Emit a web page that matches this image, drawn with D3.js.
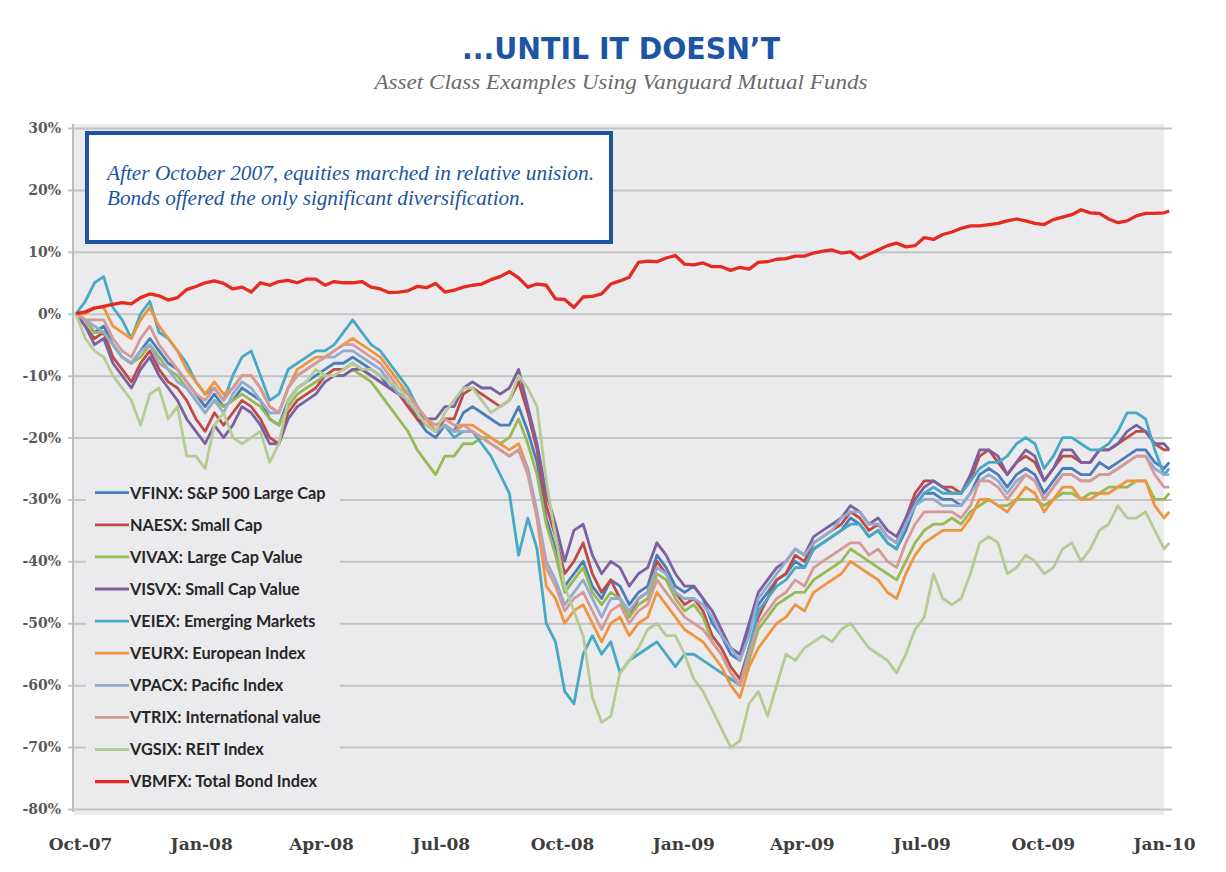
<!DOCTYPE html>
<meta charset="utf-8">

<!-- Load d3.js -->
<script src="https://d3js.org/d3.v7.min.js"></script>

<style>
  body { margin: 0; background: #fff; }
</style>

<!-- Create a div where the graph will take place -->
<div id="my_dataviz"></div>

<script>

// weekly values, % change since end of Sep-07
var vfinx = [0,-1,-3,-2,-5,-7,-8,-6,-4,-6,
  -8,-9,-11,-13,-15,-13,-15,-14,-12,-13,
  -14,-17,-18,-14,-12,-11,-10,-9,-8,-8,
  -7,-8,-9,-10,-12,-13,-14,-17,-19,-20,
  -18,-19,-16,-15,-16,-17,-18,-18,-15,-19,
  -24,-33,-38,-44,-42,-40,-44,-46,-43,-44,
  -47,-45,-44,-39,-41,-44,-45,-44,-46,-50,
  -52,-55,-56,-51,-47,-45,-43,-42,-40,-41,
  -38,-37,-36,-35,-33,-34,-36,-35,-37,-38,
  -35,-31,-29,-29,-30,-30,-31,-29,-26,-25,
  -26,-28,-26,-25,-26,-29,-27,-25,-25,-26,
  -26,-24,-25,-24,-23,-22,-22,-24,-25,-24];

var naesx = [0,-2,-4,-3,-7,-9,-11,-8,-6,-9,
  -11,-12,-14,-17,-19,-16,-18,-16,-14,-15,
  -17,-20,-21,-16,-14,-13,-12,-10,-9,-9,
  -8,-9,-10,-11,-12,-13,-15,-17,-18,-19,
  -17,-17,-13,-12,-13,-14,-15,-14,-11,-16,
  -22,-31,-36,-42,-40,-37,-42,-45,-43,-46,
  -49,-46,-45,-40,-42,-45,-47,-46,-48,-52,
  -54,-57,-59,-54,-49,-46,-43,-42,-39,-40,
  -37,-36,-35,-34,-32,-33,-35,-34,-36,-37,
  -33,-29,-27,-27,-28,-28,-29,-27,-23,-22,
  -24,-26,-24,-23,-24,-27,-25,-23,-23,-24,
  -24,-22,-22,-21,-20,-19,-19,-21,-22,-22];

var vivax = [0,-1,-3,-3,-5,-7,-8,-7,-5,-7,
  -9,-10,-12,-14,-16,-14,-15,-14,-13,-14,
  -15,-17,-18,-15,-13,-12,-11,-10,-10,-10,
  -9,-10,-11,-13,-15,-17,-19,-22,-24,-26,
  -23,-23,-21,-21,-20,-20,-21,-20,-17,-21,
  -26,-34,-39,-45,-43,-41,-45,-47,-45,-46,
  -49,-47,-46,-42,-43,-46,-48,-47,-49,-53,
  -55,-58,-60,-56,-51,-49,-47,-46,-45,-45,
  -43,-42,-41,-40,-38,-39,-40,-41,-42,-43,
  -40,-37,-35,-34,-34,-33,-34,-32,-31,-30,
  -31,-31,-30,-30,-30,-31,-30,-29,-29,-30,
  -29,-29,-28,-28,-28,-27,-27,-30,-30,-29];

var visvx = [0,-2,-5,-4,-8,-10,-12,-9,-7,-10,
  -12,-14,-17,-19,-21,-18,-20,-18,-15,-16,
  -18,-21,-21,-17,-15,-14,-13,-11,-10,-10,
  -9,-9,-10,-11,-12,-13,-14,-16,-17,-17,
  -15,-15,-12,-11,-12,-12,-13,-12,-9,-15,
  -21,-29,-34,-40,-35,-34,-39,-42,-40,-41,
  -44,-42,-41,-37,-39,-42,-44,-44,-46,-48,
  -51,-54,-55,-50,-45,-43,-41,-40,-38,-39,
  -36,-35,-34,-33,-31,-32,-34,-33,-35,-36,
  -33,-30,-28,-27,-28,-29,-29,-26,-22,-22,
  -23,-26,-24,-22,-23,-27,-25,-22,-22,-24,
  -24,-22,-22,-21,-19,-18,-19,-21,-21,-22];

var veiex = [0,2,5,6,1,-1,-4,0,2,-3,
  -4,-6,-8,-11,-13,-12,-14,-10,-7,-6,
  -10,-14,-13,-9,-8,-7,-6,-6,-5,-3,
  -1,-3,-5,-6,-8,-10,-12,-15,-17,-19,
  -18,-20,-19,-19,-21,-23,-26,-29,-39,-33,
  -38,-50,-53,-61,-63,-55,-52,-55,-53,-58,
  -56,-55,-54,-53,-55,-57,-55,-55,-56,-57,
  -58,-59,-60,-54,-48,-46,-44,-43,-41,-41,
  -38,-37,-36,-35,-34,-34,-36,-35,-37,-38,
  -34,-31,-29,-28,-29,-29,-29,-27,-25,-24,
  -24,-23,-21,-20,-21,-25,-23,-20,-20,-21,
  -22,-22,-21,-19,-16,-16,-17,-22,-26,-25];

var veurx = [0,0,1,1,-2,-3,-4,-1,1,-2,
  -4,-6,-9,-11,-13,-11,-13,-12,-10,-10,
  -12,-15,-16,-12,-9,-8,-7,-7,-6,-5,
  -4,-5,-6,-7,-9,-11,-13,-15,-17,-19,
  -18,-19,-18,-18,-19,-20,-21,-22,-21,-25,
  -33,-44,-46,-50,-48,-47,-50,-53,-50,-49,
  -52,-50,-49,-45,-47,-49,-51,-52,-53,-55,
  -57,-60,-62,-57,-54,-52,-50,-49,-47,-48,
  -45,-44,-43,-42,-40,-41,-42,-43,-45,-46,
  -42,-39,-37,-36,-35,-35,-35,-33,-30,-30,
  -31,-32,-30,-28,-29,-32,-30,-28,-28,-30,
  -30,-29,-29,-28,-27,-27,-27,-31,-33,-32];

var vpacx = [0,-1,-2,-3,-5,-7,-8,-6,-5,-8,
  -9,-11,-12,-14,-16,-14,-16,-13,-11,-12,
  -14,-16,-16,-12,-10,-9,-8,-7,-7,-6,
  -6,-7,-8,-9,-11,-13,-14,-16,-18,-19,
  -18,-19,-19,-19,-20,-21,-22,-23,-22,-25,
  -32,-40,-43,-47,-45,-43,-46,-49,-46,-46,
  -48,-46,-45,-41,-42,-45,-46,-46,-47,-49,
  -52,-54,-56,-52,-46,-44,-42,-40,-38,-39,
  -37,-36,-35,-33,-32,-32,-34,-34,-36,-37,
  -34,-31,-30,-30,-31,-31,-31,-29,-27,-26,
  -27,-29,-27,-26,-27,-30,-28,-26,-26,-27,
  -27,-26,-26,-25,-24,-23,-23,-25,-26,-26];

var vtrix = [0,-1,-1,-1,-4,-6,-7,-4,-2,-5,
  -7,-9,-11,-13,-14,-12,-14,-12,-10,-10,
  -12,-15,-16,-12,-10,-9,-8,-7,-6,-5,
  -5,-6,-7,-8,-10,-12,-13,-15,-17,-18,
  -17,-18,-18,-19,-20,-21,-22,-23,-22,-26,
  -33,-41,-44,-48,-46,-45,-48,-51,-48,-47,
  -50,-48,-47,-43,-45,-47,-49,-50,-51,-53,
  -55,-58,-60,-55,-50,-48,-46,-45,-43,-44,
  -41,-40,-39,-38,-37,-37,-39,-38,-40,-41,
  -37,-34,-32,-32,-32,-32,-33,-31,-27,-27,
  -28,-30,-28,-26,-27,-30,-28,-26,-26,-27,
  -27,-26,-26,-25,-24,-23,-23,-26,-28,-28];

var vgsix = [0,-4,-6,-7,-10,-12,-14,-18,-13,-12,
  -17,-15,-23,-23,-25,-18,-16,-20,-21,-20,
  -19,-24,-21,-14,-12,-11,-9,-10,-10,-9,
  -8,-9,-9,-10,-11,-12,-14,-16,-18,-19,
  -16,-14,-12,-12,-14,-16,-15,-14,-10,-12,
  -15,-27,-36,-44,-48,-52,-62,-66,-65,-58,
  -56,-54,-51,-50,-52,-52,-55,-59,-61,-64,
  -67,-70,-69,-63,-61,-65,-60,-55,-56,-54,
  -53,-52,-53,-51,-50,-52,-54,-55,-56,-58,
  -55,-51,-49,-42,-46,-47,-46,-42,-37,-36,
  -37,-42,-41,-39,-40,-42,-41,-38,-37,-40,
  -38,-35,-34,-31,-33,-33,-32,-35,-38,-37];

var vbmfx = [0,0.3,0.9,1.2,1.5,1.8,1.6,2.6,3.2,2.9,
  2.2,2.6,3.9,4.4,5.0,5.3,4.9,4.0,4.3,3.5,
  5.0,4.6,5.2,5.4,5.0,5.6,5.6,4.6,5.2,5.0,
  5.0,5.2,4.3,4.0,3.4,3.5,3.7,4.4,4.2,4.9,
  3.5,3.8,4.3,4.6,4.8,5.5,6.0,6.8,5.8,4.3,
  4.8,4.6,2.4,2.3,1.0,2.7,2.8,3.2,4.8,5.3,
  5.9,8.3,8.5,8.4,9.0,9.4,8.0,7.9,8.2,7.6,
  7.6,7.0,7.5,7.2,8.3,8.4,8.8,8.9,9.3,9.3,
  9.8,10.1,10.3,9.8,10.0,8.9,9.6,10.3,11.0,11.4,
  10.8,11.0,12.3,12.0,12.8,13.2,13.8,14.2,14.2,14.4,
  14.6,15.0,15.3,15.0,14.6,14.4,15.2,15.6,16.0,16.8,
  16.3,16.2,15.3,14.7,15.0,15.8,16.2,16.2,16.3,16.6];

// series names as in the legend (same order as the arrays below)
var legendLabels = ["VFINX: S&P 500 Large Cap", "NAESX: Small Cap", "VIVAX: Large Cap Value",
  "VISVX: Small Cap Value", "VEIEX: Emerging Markets", "VEURX: European Index",
  "VPACX: Pacific Index", "VTRIX: International value", "VGSIX: REIT Index",
  "VBMFX: Total Bond Index"];
var seriesValues = [vfinx, naesx, vivax, visvx, veiex, veurx, vpacx, vtrix, vgsix, vbmfx];
var seriesColors = ["#4a7ebb", "#be4b48", "#98b954", "#7d60a0", "#46aac5",
  "#ef9540", "#93abd0", "#d59a97", "#b5cb95", "#e52b20"];

// axis ticks
var xTickLabels = ["Oct-07", "Jan-08", "Apr-08", "Jul-08", "Oct-08", "Jan-09", "Apr-09", "Jul-09", "Oct-09", "Jan-10"];
var xTickDates = [new Date(2007, 9, 1), new Date(2008, 0, 1), new Date(2008, 3, 1), new Date(2008, 6, 1),
  new Date(2008, 9, 1), new Date(2009, 0, 1), new Date(2009, 3, 1), new Date(2009, 6, 1),
  new Date(2009, 9, 1), new Date(2010, 0, 1)];
var yTicks = [30, 20, 10, 0, -10, -20, -30, -40, -50, -60, -70, -80];

// one point per week (Fridays), plus the first trading days of Jan-10
var dates = d3.timeFriday.range(new Date(2007, 8, 28), new Date(2010, 0, 2));
dates.push(new Date(2010, 0, 5));

// sizes
var width = 1226, height = 872;
var plot = {left: 73, right: 1164, top: 124, bottom: 815};

var svg = d3.select("#my_dataviz")
  .append("svg")
    .attr("width", width)
    .attr("height", height)
    .style("display", "block");

var x = d3.scaleTime()
  .domain([xTickDates[0], xTickDates[xTickDates.length - 1]])
  .range([80, 1164]);

var y = d3.scaleLinear()
  .domain([-80, 30])
  .range([809, 128]);

// grey plot area
svg.append("rect")
  .attr("x", plot.left + 1)
  .attr("y", plot.top)
  .attr("width", plot.right - plot.left - 1)
  .attr("height", plot.bottom - plot.top)
  .style("fill", "#ebebed");

// y axis with gridlines
var yAxis = svg.append("g")
  .attr("transform", "translate(68,0)")
  .call(d3.axisLeft(y)
    .tickValues(yTicks)
    .tickSizeInner(-(1172 - 68))
    .tickSizeOuter(0)
    .tickPadding(7)
    .tickFormat(function(d){ return d + "%"; }));
yAxis.select(".domain").remove();
yAxis.selectAll(".tick line")
  .style("stroke", "#c4c4c6")
  .style("stroke-width", 2);
yAxis.selectAll(".tick text")
  .style("font-family", "'DejaVu Serif', serif")
  .style("font-weight", "bold")
  .style("font-size", "14px")
  .style("fill", "#5a5a5a");

// vertical axis line
svg.append("line")
  .attr("x1", plot.left).attr("x2", plot.left)
  .attr("y1", plot.top).attr("y2", 812)
  .style("stroke", "#bcbcbc")
  .style("stroke-width", 2);

// x axis labels only
var xAxis = svg.append("g")
  .attr("transform", "translate(0,835)")
  .call(d3.axisBottom(x)
    .tickValues(xTickDates)
    .tickSize(0)
    .tickPadding(0)
    .tickFormat(function(d, i){ return xTickLabels[i]; }));
xAxis.select(".domain").remove();
xAxis.selectAll(".tick text")
  .attr("dy", "0.9em")
  .style("font-family", "'DejaVu Serif', serif")
  .style("font-weight", "bold")
  .style("font-size", "17px")
  .style("fill", "#3e3e3e");

// the lines
var line = d3.line()
  .x(function(d, i){ return x(dates[i]); })
  .y(function(d){ return y(d); });

svg.selectAll("myseries")
  .data(seriesValues)
  .enter()
  .append("path")
    .attr("d", line)
    .style("fill", "none")
    .style("stroke", function(d, i){ return seriesColors[i]; })
    .style("stroke-width", function(d, i){ return i === 9 ? 3.3 : 2.8; })
    .style("stroke-linejoin", "round");

// legend
var legend = svg.append("g");
legend.append("rect")
  .attr("x", 86).attr("y", 476)
  .attr("width", 254).attr("height", 322)
  .style("fill", "#ebebed");

var rowY = function(i){ return 492.7 + i * 32.1; };
legend.selectAll("mylegendlines")
  .data(legendLabels)
  .enter()
  .append("line")
    .attr("x1", 95).attr("x2", 129)
    .attr("y1", function(d, i){ return rowY(i); })
    .attr("y2", function(d, i){ return rowY(i); })
    .style("stroke", function(d, i){ return seriesColors[i]; })
    .style("stroke-width", function(d, i){ return i === 9 ? 3.3 : 2.8; });
legend.selectAll("mylegendtext")
  .data(legendLabels)
  .enter()
  .append("text")
    .attr("x", 130)
    .attr("y", function(d, i){ return rowY(i); })
    .attr("dy", "0.36em")
    .text(function(d){ return d; })
    .style("font-family", "Lato, 'Open Sans', sans-serif")
    .style("font-weight", "bold")
    .style("font-size", "16.3px")
    .style("fill", "#262626");

// annotation box
svg.append("rect")
  .attr("x", 87).attr("y", 133)
  .attr("width", 524).attr("height", 109)
  .style("fill", "#fff")
  .style("stroke", "#1b55a0")
  .style("stroke-width", 4);

svg.append("text")
  .attr("x", 107).attr("y", 180)
  .attr("textLength", 487)
  .attr("lengthAdjust", "spacingAndGlyphs")
  .text("After October 2007, equities marched in relative unision.")
  .style("font-family", "'Liberation Serif', serif")
  .style("font-style", "italic")
  .style("font-size", "20px")
  .style("fill", "#1b55a0");
svg.append("text")
  .attr("x", 107).attr("y", 205)
  .attr("textLength", 418)
  .attr("lengthAdjust", "spacingAndGlyphs")
  .text("Bonds offered the only significant diversification.")
  .style("font-family", "'Liberation Serif', serif")
  .style("font-style", "italic")
  .style("font-size", "20px")
  .style("fill", "#1b55a0");

// titles
svg.append("text")
  .attr("x", 621).attr("y", 59)
  .attr("text-anchor", "middle")
  .attr("textLength", 318)
  .attr("lengthAdjust", "spacingAndGlyphs")
  .text("...UNTIL IT DOESN\u2019T")
  .style("font-family", "'Liberation Sans Narrow', 'DejaVu Sans Condensed', 'Liberation Sans', sans-serif")
  .style("font-weight", "bold")
  .style("font-size", "31px")
  .style("fill", "#1b55a3");

svg.append("text")
  .attr("x", 621).attr("y", 89)
  .attr("text-anchor", "middle")
  .attr("textLength", 493)
  .attr("lengthAdjust", "spacingAndGlyphs")
  .text("Asset Class Examples Using Vanguard Mutual Funds")
  .style("font-family", "'Liberation Serif', serif")
  .style("font-style", "italic")
  .style("font-size", "20px")
  .style("fill", "#6a6a6a");

</script>
